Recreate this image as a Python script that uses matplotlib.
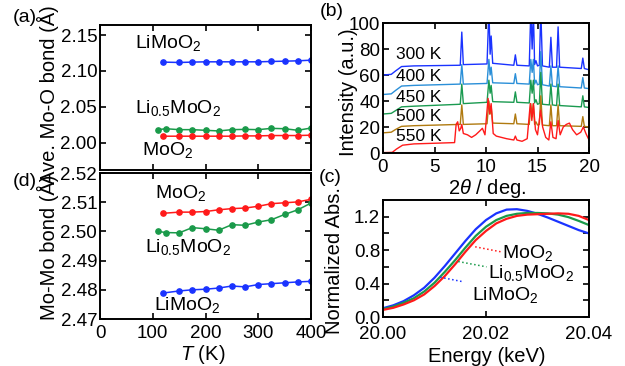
import numpy as np
import matplotlib
matplotlib.use("Agg")
import matplotlib.pyplot as plt

plt.rcParams['font.family'] = ['Liberation Sans', 'DejaVu Sans']
plt.rcParams['mathtext.fontset'] = 'custom'
plt.rcParams['mathtext.rm'] = 'Liberation Sans'
plt.rcParams['mathtext.it'] = 'Liberation Sans:italic'
plt.rcParams['mathtext.bf'] = 'Liberation Sans:bold'

RED = '#ff1a1a'
GREEN = '#1a9a4a'
BLUE = '#1a33ff'

# (a) average Mo-O bond
T_12 = [120, 150, 175, 200, 225, 250, 275, 300, 325, 350, 375, 400]
T_13 = [110, 125, 150, 175, 200, 225, 250, 275, 300, 325, 350, 375, 400]
moo_limoo2 = [2.1123, 2.1118, 2.1123, 2.1127, 2.1127, 2.1127, 2.1127, 2.1127, 2.1132, 2.1136, 2.1141, 2.1150]
moo_li05 = [2.0182, 2.0195, 2.0182, 2.0182, 2.0173, 2.0164, 2.0182, 2.0186, 2.0182, 2.0200, 2.0195, 2.0173, 2.0205]
moo_moo2 = [2.0091, 2.0091, 2.0091, 2.0091, 2.0091, 2.0091, 2.0095, 2.0095, 2.0100, 2.0100, 2.0100, 2.0105]

# (d) Mo-Mo bond
momo_moo2 = [2.5062, 2.5066, 2.5066, 2.5068, 2.5074, 2.5078, 2.5080, 2.5086, 2.5095, 2.5098, 2.5101, 2.5110]
momo_li05 = [2.5000, 2.4996, 2.4995, 2.5013, 2.5009, 2.5004, 2.5023, 2.5021, 2.5032, 2.5040, 2.5058, 2.5074, 2.5097]
momo_limoo2 = [2.4789, 2.4796, 2.4800, 2.4802, 2.4806, 2.4813, 2.4810, 2.4818, 2.4821, 2.4824, 2.4827, 2.4829]

# (b) XRD patterns
tth = [0, 0.8, 1.2, 1.8, 3, 7.5, 7.65, 7.8, 10.1, 10.28, 10.4, 10.5, 10.65, 12.7, 12.85, 13.0,
       14.2, 14.35, 14.48, 14.6, 14.72, 14.85, 15.0, 15.18, 15.32, 15.48, 16.15, 16.3, 16.45,
       16.85, 17.0, 17.15, 19.25, 19.4, 19.55, 20]
xrd_300 = [60, 60.5, 63, 66.5, 67, 67.5, 93, 68, 68.5, 110, 76, 90, 69, 67.5, 75.5, 67.5,
           67, 110, 80, 110, 68, 71, 67, 67.5, 110, 67, 66, 89, 66, 66, 97, 66, 65, 73, 65, 64]
xrd_400 = [45, 45.5, 48, 51.5, 52, 53, 68, 53, 53.5, 72, 60, 66, 54, 53.5, 61, 53.5,
           53, 72, 62, 72, 53, 56, 52.5, 53, 78, 52.5, 51.5, 67, 51.5, 51, 67, 51, 50, 58, 50, 49.5]
xrd_450 = [30, 30.5, 32.5, 35.5, 36, 37.5, 53, 38, 39, 56, 46, 52, 39.5, 39, 47, 39,
           38.5, 56, 46, 56, 38.5, 41, 37.5, 38, 62, 37.5, 37, 53, 37, 36.5, 53, 36.5, 35.5, 44, 35.5, 35]
xrd_500 = [15.5, 16, 18, 20.5, 21, 22, 37, 22, 22.5, 40, 30, 36, 23, 22.5, 30, 22.5,
           22, 38, 28, 38, 22, 24, 21.5, 22, 44, 21.5, 21, 37, 21, 21, 37, 21, 20.5, 28, 20.5, 20]
tth_550 = [0, 0.9, 1.3, 1.9, 3, 5, 6.95, 7.1, 7.25, 7.4, 7.55, 7.65, 7.8, 8.2, 8.6, 9.0, 9.4, 9.65,
           9.9, 10.2, 10.35, 10.5, 10.7, 11.0, 12.0, 12.7, 12.85, 13.0, 13.5, 14.0, 14.3, 14.45,
           14.6, 14.8, 15.0, 15.3, 15.5, 15.8, 16.1, 16.3, 16.5, 16.8, 17.0, 17.2, 17.5, 17.8,
           18.1, 18.4, 18.8, 19.2, 19.45, 19.7, 20]
xrd_550 = [0.3, 0.5, 3, 6, 7, 7.5, 8, 22, 24, 17, 19, 22, 15, 14, 12, 14, 17, 19,
           14, 42, 30, 38, 15, 13, 11, 10, 13, 10, 9, 11, 38, 25,
           38, 18, 14, 33, 20, 12, 10, 24, 12, 11, 25, 14, 20, 22,
           23, 18, 14, 16, 20, 15, 10]
temps = ['300 K', '400 K', '450 K', '500 K', '550 K']
temp_colors = [BLUE, '#2a8fd8', '#1a9a50', '#b07a10', RED]
temp_label_y = [75.5, 58.7, 42.8, 27.9, 13]

# (c) XANES
energy = [20.000, 20.002, 20.004, 20.006, 20.008, 20.010, 20.012, 20.014, 20.016, 20.018, 20.020,
          20.022, 20.024, 20.026, 20.028, 20.030, 20.032, 20.034, 20.036, 20.038, 20.040]
abs_limoo2 = [0.105, 0.14, 0.19, 0.26, 0.35, 0.47, 0.61, 0.76, 0.91, 1.05, 1.16,
              1.24, 1.285, 1.29, 1.27, 1.235, 1.19, 1.14, 1.09, 1.04, 1.00]
abs_li05 = [0.095, 0.125, 0.17, 0.225, 0.305, 0.41, 0.54, 0.68, 0.83, 0.97, 1.08,
            1.16, 1.21, 1.235, 1.245, 1.245, 1.24, 1.225, 1.195, 1.15, 1.10]
abs_moo2 = [0.085, 0.11, 0.15, 0.20, 0.27, 0.37, 0.49, 0.63, 0.78, 0.92, 1.03,
            1.12, 1.175, 1.21, 1.225, 1.23, 1.235, 1.24, 1.235, 1.21, 1.16]

W, H = 625, 366
fig = plt.figure(figsize=(W / 100, H / 100), dpi=100)


def box(l, t, r, b):
    return [l / W, 1 - b / H, (r - l) / W, (b - t) / H]


def style(ax):
    for s in ax.spines.values():
        s.set_linewidth(1.4)
    ax.tick_params(which='both', direction='in', top=True, right=True,
                   length=4, width=1.2, labelsize=13.5)
    ax.tick_params(axis='x', pad=4.5)
    ax.tick_params(axis='y', pad=2)


ax_a = fig.add_axes(box(100, 25, 311, 170))
ax_d = fig.add_axes(box(100, 173, 311, 319))
ax_b = fig.add_axes(box(383, 23, 589, 153))
ax_c = fig.add_axes(box(383, 200, 589, 317))

# (a)
ax_a.plot(T_12, moo_limoo2, 'o-', color=BLUE, ms=3.8, lw=1.1)
ax_a.plot(T_13, moo_li05, 'o-', color=GREEN, ms=3.8, lw=1.1)
ax_a.plot(T_12, moo_moo2, 'o-', color=RED, ms=3.8, lw=1.1)
ax_a.set_xlim(0, 400)
ax_a.set_ylim(1.962, 2.164)
ax_a.set_yticks([2.00, 2.05, 2.10, 2.15])
ax_a.set_xticks([0, 100, 200, 300, 400])
ax_a.set_xticklabels([])
style(ax_a)
ax_a.text(66, 2.139, r'LiMoO$_2$', fontsize=14, va='center')
ax_a.text(66, 2.048, r'Li$_{0.5}$MoO$_2$', fontsize=14, va='center')
ax_a.text(79, 1.990, r'MoO$_2$', fontsize=14, va='center')

# (d)
ax_d.plot(T_12, momo_moo2, 'o-', color=RED, ms=3.8, lw=1.1)
ax_d.plot(T_13, momo_li05, 'o-', color=GREEN, ms=3.8, lw=1.1)
ax_d.plot(T_12, momo_limoo2, 'o-', color=BLUE, ms=3.8, lw=1.1)
ax_d.set_xlim(0, 400)
ax_d.set_ylim(2.47, 2.52)
ax_d.set_yticks([2.47, 2.48, 2.49, 2.50, 2.51, 2.52])
ax_d.set_xticks([0, 100, 200, 300, 400])
style(ax_d)
ax_d.text(105, 2.513, r'MoO$_2$', fontsize=14, va='center')
ax_d.text(86, 2.4945, r'Li$_{0.5}$MoO$_2$', fontsize=14, va='center')
ax_d.text(102, 2.4749, r'LiMoO$_2$', fontsize=14, va='center')

# (b)
curves = [(tth, xrd_300), (tth, xrd_400), (tth, xrd_450), (tth, xrd_500), (tth_550, xrd_550)]
for (xx, yy), c in zip(curves, temp_colors):
    ax_b.plot(xx, yy, color=c, lw=1.0)
for lab, yl in zip(temps, temp_label_y):
    ax_b.text(1.3, yl, lab, fontsize=12.5, va='center')
ax_b.set_xlim(0, 20)
ax_b.set_ylim(0, 100)
ax_b.set_xticks([0, 5, 10, 15, 20])
ax_b.set_yticks([0, 20, 40, 60, 80, 100])
style(ax_b)

# (c)
ax_c.plot(energy, abs_limoo2, color=BLUE, lw=1.6)
ax_c.plot(energy, abs_li05, color=GREEN, lw=1.6)
ax_c.plot(energy, abs_moo2, color=RED, lw=1.6)
ax_c.plot([20.0179, 20.0229], [0.84, 0.78], ':', color=RED, lw=1.1)
ax_c.plot([20.0146, 20.0201], [0.664, 0.60], ':', color=GREEN, lw=1.1)
ax_c.plot([20.0111, 20.0157], [0.476, 0.42], ':', color=BLUE, lw=1.1)
ax_c.text(20.0231, 0.77, r'MoO$_2$', fontsize=14, va='center')
ax_c.text(20.0204, 0.53, r'Li$_{0.5}$MoO$_2$', fontsize=14, va='center')
ax_c.text(20.0172, 0.26, r'LiMoO$_2$', fontsize=14, va='center')
ax_c.set_xlim(20.00, 20.04)
ax_c.set_ylim(0, 1.4)
ax_c.set_xticks([20.00, 20.02, 20.04])
ax_c.set_xticklabels(['20.00', '20.02', '20.04'])
ax_c.set_yticks([0.0, 0.4, 0.8, 1.2])
ax_c.set_yticks([0.2, 0.6, 1.0], minor=True)
style(ax_c)
ax_c.tick_params(axis='x', pad=6.5)

# axis titles and panel labels
fig.text(48 / W, 1 - 95 / H, 'Ave. Mo-O bond (Å)', rotation=90, ha='center', va='center', fontsize=14.5)
fig.text(47.5 / W, 1 - 247 / H, 'Mo-Mo bond (Å)', rotation=90, ha='center', va='center', fontsize=14.5)
fig.text(349 / W, 1 - 92 / H, 'Intensity (a.u.)', rotation=90, ha='center', va='center', fontsize=14.5)
fig.text(334 / W, 1 - 261 / H, 'Normalized Abs.', rotation=90, ha='center', va='center', fontsize=14.5)
fig.text(487 / W, 1 - 189 / H, r'2$\it{\theta}$ / deg.', ha='center', va='center', fontsize=14.5)
fig.text(487 / W, 1 - 356 / H, 'Energy (keV)', ha='center', va='center', fontsize=14.5)
fig.text(203 / W, 1 - 355 / H, r'$\it{T}$ (K)', ha='center', va='center', fontsize=14.5)

fig.text(25 / W, 1 - 18 / H, '(a)', ha='center', va='center', fontsize=14)
fig.text(332 / W, 1 - 12 / H, '(b)', ha='center', va='center', fontsize=14)
fig.text(330 / W, 1 - 177 / H, '(c)', ha='center', va='center', fontsize=14)
fig.text(25 / W, 1 - 182 / H, '(d)', ha='center', va='center', fontsize=14)

fig.savefig('out.png', dpi=100)
